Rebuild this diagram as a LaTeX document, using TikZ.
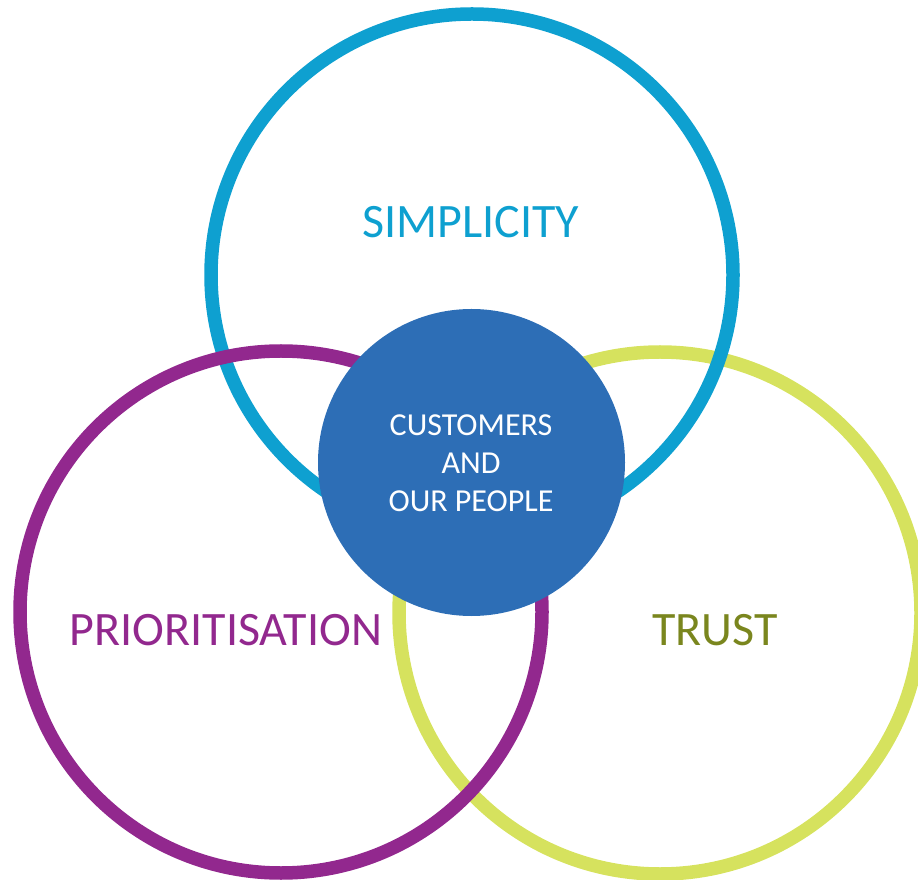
\documentclass[tikz,border=0pt]{standalone}
\usepackage{fontspec}
\setmainfont{Carlito}
\definecolor{cblue}{RGB}{14,160,208}
\definecolor{cpurple}{RGB}{146,40,142}
\definecolor{cgreen}{RGB}{214,226,94}
\definecolor{colive}{RGB}{122,134,30}
\definecolor{ccore}{RGB}{45,110,182}
\begin{document}
\begin{tikzpicture}[x=1pt,y=1pt,
  ring/.style={line width=13.5pt},
  lbl/.style={font=\fontsize{48}{56}\selectfont, inner sep=0pt},
  corelbl/.style={font=\fontsize{32}{38}\selectfont, text=white, align=center, inner sep=0pt}]
\useasboundingbox (0,0) rectangle (918,879);
\draw[ring, cgreen] (660,266) circle (261);
\draw[ring, cblue] (472,604) circle (261);
\draw[ring, cpurple] (281,267) circle (261);
\fill[ccore] (471.5,416.5) circle (153.5);
\node[lbl, text=cblue] (simp) at (471,657) {SIMPLICITY};
\node[lbl, text=cpurple] (prio) at (226,249) {PRIORITISATION};
\node[lbl, text=colive] (trust) at (715,249) {TRUST};
\node[corelbl] (core) at (471,416) {CUSTOMERS\\AND\\OUR PEOPLE};
\end{tikzpicture}
\end{document}
